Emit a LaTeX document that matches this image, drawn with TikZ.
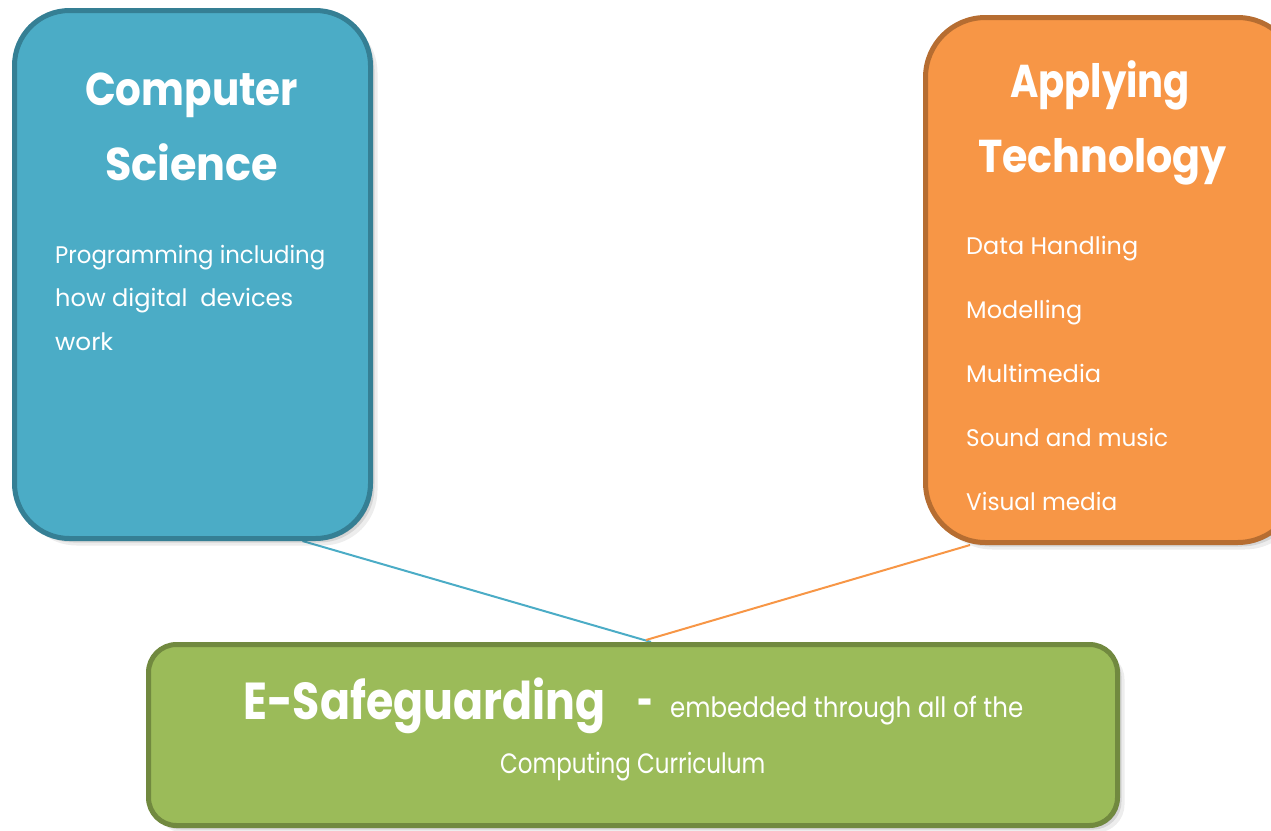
\documentclass[tikz,border=0pt]{standalone}
\usepackage{fontspec}
\setmainfont{Poppins}
\usepackage{graphicx}
\usetikzlibrary{shadows,calc}

\pgfdeclarelayer{bg}
\pgfsetlayers{bg,main}

% set a line at a given width (in pt), keeping its height
\newsavebox\fitbox
\newcommand\fitto[2]{%
  \sbox\fitbox{#2}%
  \pgfmathsetmacro\fitratio{#1/\the\wd\fitbox}%
  \scalebox{\fitratio}[1]{\usebox\fitbox}}

\definecolor{csfill}{HTML}{4BACC6}
\definecolor{csline}{HTML}{357F94}
\definecolor{atfill}{HTML}{F79646}
\definecolor{atline}{HTML}{B66D31}
\definecolor{esfill}{HTML}{9BBB59}
\definecolor{esline}{HTML}{71893F}

\tikzset{
  softshade/.style={
    drop shadow={shadow xshift=2pt,shadow yshift=-2pt,opacity=.14,fill=black},
    drop shadow={shadow xshift=4pt,shadow yshift=-4pt,opacity=.10,fill=black},
    drop shadow={shadow xshift=7pt,shadow yshift=-7pt,opacity=.07,fill=black}},
  panel/.style={draw, line width=5pt, inner sep=0pt, softshade},
  link/.style={line width=2pt},
  ttl/.style={text=white, inner sep=0pt, anchor=base,
    font=\bfseries\fontsize{46}{46}\selectfont},
  body/.style={text=white, inner sep=0pt, anchor=base west,
    font=\fontsize{24}{24}\selectfont},
}

\begin{document}
\begin{tikzpicture}[x=1pt,y=-1pt]
\useasboundingbox (0,0) rectangle (1271,830);
\clip (0,0) rectangle (1271,830);

% the three panels
\node[panel, fill=csfill, draw=csline, rounded corners=55pt,
      minimum width=356pt, minimum height=528pt] (cs) at (192.5,274.5) {};
\node[panel, fill=atfill, draw=atline, rounded corners=60pt,
      minimum width=372pt, minimum height=525pt] (at) at (1111.5,280) {};
\node[panel, fill=esfill, draw=esline, rounded corners=28pt,
      minimum width=969pt, minimum height=181pt] (es) at (633,735) {};

% Computer Science
\node[ttl] (cs-t1) at (191.5,105) {\fitto{213}{Computer}};
\node[ttl] (cs-t2) at (191.5,180) {\fitto{173}{Science}};
\node[body] (cs-b1) at (55,263) {\fitto{270}{Programming including}};
\node[body] (cs-b2) at (55,306) {\fitto{238}{how digital\ \ devices}};
\node[body] (cs-b3) at (55,350) {\fitto{58}{work}};

% Applying Technology
\node[ttl] (at-t1) at (1100,97) {\fitto{180}{Applying}};
\node[ttl] (at-t2) at (1102.5,172) {\fitto{249}{Technology}};
\node[body] (at-b1) at (966,254) {\fitto{172}{Data Handling}};
\node[body] (at-b2) at (966,318) {\fitto{116}{Modelling}};
\node[body] (at-b3) at (966,382) {\fitto{135}{Multimedia}};
\node[body] (at-b4) at (966,446) {\fitto{202}{Sound and music}};
\node[body] (at-b5) at (966,510) {\fitto{151}{Visual media}};

% E-Safeguarding
\node[text=white, inner sep=0pt, anchor=base west,
      font=\bfseries\fontsize{52}{52}\selectfont] (es-t) at (243,719)
      {\fitto{362}{E-Safeguarding}};
\node[text=white, inner sep=0pt, anchor=base west,
      font=\bfseries\fontsize{44}{44}\selectfont] (es-d) at (637,717)
      {\fitto{15}{–}};
\node[body, font=\fontsize{28}{28}\selectfont] (es-b1) at (670,717)
      {\fitto{353}{embedded through all of the}};
\node[body, font=\fontsize{28}{28}\selectfont] (es-b2) at (500,773)
      {\fitto{265}{Computing Curriculum}};

% connectors, beneath the panels
\begin{pgfonlayer}{bg}
\draw[link, csfill] ($(cs.south)+(110,0)$) -- ($(es.north)+(18,0)$);
\draw[link, atfill] ($(at.south)+(-141.5,0)$) -- ($(es.north)+(13,-2)$);
\end{pgfonlayer}
\end{tikzpicture}
\end{document}
